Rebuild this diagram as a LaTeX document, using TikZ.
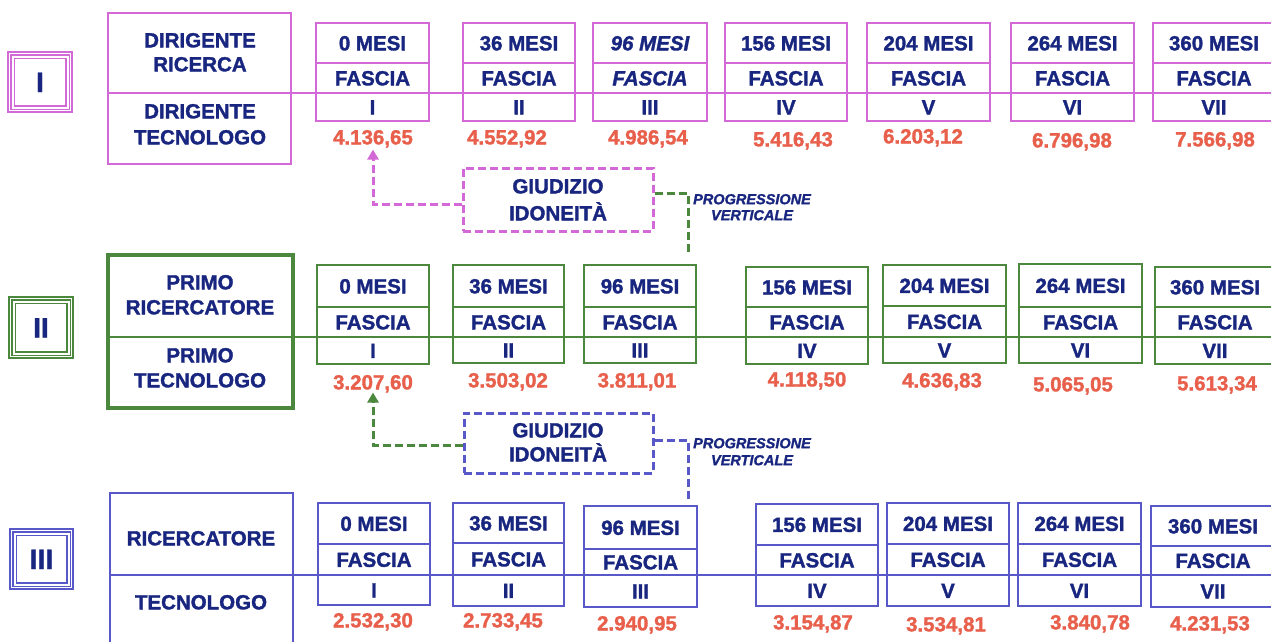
\documentclass[tikz,border=0pt]{standalone}
\usepackage{fontspec}
\setmainfont{Liberation Sans}[BoldFeatures={FakeBold=1.5},BoldItalicFeatures={FakeBold=1.5}]
\usetikzlibrary{fit,arrows.meta}
\definecolor{mag}{RGB}{210,105,215}
\definecolor{grn}{RGB}{75,135,60}
\definecolor{blu}{RGB}{88,88,200}
\definecolor{navy}{RGB}{25,38,128}
\definecolor{valc}{RGB}{232,96,76}
\tikzset{
  lbl/.style={font=\fontsize{20.5}{24}\selectfont\bfseries, text=navy, inner sep=0pt, text height=14.7pt, text depth=0pt},
  vlbl/.style={lbl, text=valc},
  rom/.style={font=\fontsize{28}{30}\selectfont\bfseries, text=navy, inner sep=0pt, text height=20pt, text depth=0pt},
  prog/.style={font=\fontsize{14.5}{16}\selectfont\bfseries\itshape, text=navy, inner sep=0pt, text height=10.4pt, text depth=0pt},
  boxline/.style={line width=2pt},
  dashline/.style={line width=3pt, dash pattern=on 8pt off 4pt},
  tip/.style={-{Triangle[width=11pt,length=10pt]}},
}
\newcommand\romanbox[7]{%
  \node[fit={(#3,#5)(#4,#6)}, inner sep=0pt, draw=#2, line width=1.5pt] (#1) {};
  \draw[#2, line width=1.5pt] ([xshift=3.5pt,yshift=-3.5pt]#1.north west) rectangle ([xshift=-3.5pt,yshift=3.5pt]#1.south east);
  \draw[#2, line width=1.5pt] ([xshift=7pt,yshift=-7pt]#1.north west) rectangle ([xshift=-7pt,yshift=7pt]#1.south east);
  \node[rom] (#1t) at (#1.center) {#7};
}
\newcommand\fas[9]{%
  \node[fit={(#3,#5)(#4,#7)}, inner sep=0pt, draw=#2, boxline] (#1) {};
  \draw[#2, boxline] (#3,#6) -- (#4,#6);
  \node[lbl] (#1m) at ({(#3+#4)/2},{(#5+#6)/2}) {#8};
  \node[lbl] (#1f) at ({(#3+#4)/2},{(#6+\ymid)/2}) {\fasc};
  \node[lbl] (#1r) at ({(#3+#4)/2},{(\ymid+#7)/2}) {#9};
}
\def\fasc{FASCIA}
\begin{document}
\begin{tikzpicture}[x=1pt,y=-1pt]
\clip (0,0) rectangle (1271,641);
\fill[white] (0,0) rectangle (1271,641);

% ---------------- Row I ----------------
\def\ymid{93}
\romanbox{R1}{mag}{8}{72}{52}{112}{I}
\node[fit={(108,13)(291,164)}, inner sep=0pt, draw=mag, boxline] (T1) {};
\coordinate (L1a) at (108,93);
\coordinate (L1b) at (1275,93);
\draw[mag, boxline] (L1a) -- (L1b);
\node[lbl] (T1a) at (200,40) {DIRIGENTE};
\node[lbl] (T1b) at (200,64) {RICERCA};
\node[lbl] (T1c) at (200,111) {DIRIGENTE};
\node[lbl] (T1d) at (200,137) {TECNOLOGO};
\fas{a1}{mag}{316}{429}{23}{63}{121}{0 MESI}{I}
\fas{a2}{mag}{463}{575}{23}{63}{121}{36 MESI}{II}
\def\fasc{\itshape FASCIA}
\fas{a3}{mag}{593}{707}{23}{63}{121}{\itshape 96 MESI}{III}
\def\fasc{FASCIA}
\fas{a4}{mag}{725}{847}{23}{63}{121}{156 MESI}{IV}
\fas{a5}{mag}{867}{990}{23}{63}{121}{204 MESI}{V}
\fas{a6}{mag}{1011}{1134}{23}{63}{121}{264 MESI}{VI}
\fas{a7}{mag}{1153}{1275}{23}{63}{121}{360 MESI}{VII}
\node[vlbl] (a1v) at (373,137) {4.136,65};
\node[vlbl] (a2v) at (507,137) {4.552,92};
\node[vlbl] (a3v) at (648,137) {4.986,54};
\node[vlbl] (a4v) at (793,139) {5.416,43};
\node[vlbl] (a5v) at (923,136) {6.203,12};
\node[vlbl] (a6v) at (1072,140) {6.796,98};
\node[vlbl] (a7v) at (1215,139) {7.566,98};

% giudizio 1
\node[fit={(463,168)(653,231)}, inner sep=0pt, draw=mag, dashline] (g1) {};
\node[lbl] (g1a) at (558,186) {GIUDIZIO};
\node[lbl] (g1b) at (558,213) {IDONEITÀ};
\draw[mag, dashline, tip] ([yshift=-4.5pt]g1.west) -| ([yshift=-5pt]a1v.south);
\coordinate (q1) at (688,255);
\draw[grn, dashline] ([yshift=6.5pt]g1.east) -| (q1);
\node[prog] (p1a) at (752,199) {PROGRESSIONE};
\node[prog] (p1b) at (752,215) {VERTICALE};

% ---------------- Row II ----------------
\def\ymid{337}
\romanbox{R2}{grn}{9}{73}{297}{358}{II}
\coordinate (L2a) at (108,337);
\coordinate (L2b) at (1275,337);
\draw[grn, boxline] (L2a) -- (L2b);
\node[fit={(108,255)(293,408)}, inner sep=0pt, draw=grn, line width=4pt] (T2) {};
\node[lbl] (T2a) at (200,282) {PRIMO};
\node[lbl] (T2b) at (200,307) {RICERCATORE};
\node[lbl] (T2c) at (200,355) {PRIMO};
\node[lbl] (T2d) at (200,380) {TECNOLOGO};
\fas{b1}{grn}{317}{429}{265}{307}{364}{0 MESI}{I}
\fas{b2}{grn}{453}{564}{265}{307}{363}{36 MESI}{II}
\fas{b3}{grn}{584}{696}{265}{307}{363}{96 MESI}{III}
\fas{b4}{grn}{746}{868}{267}{307}{364}{156 MESI}{IV}
\fas{b5}{grn}{883}{1006}{265}{306}{363}{204 MESI}{V}
\fas{b6}{grn}{1019}{1142}{264}{307}{363}{264 MESI}{VI}
\fas{b7}{grn}{1155}{1275}{267}{307}{364}{360 MESI}{VII}
\node[vlbl] (b1v) at (373,382) {3.207,60};
\node[vlbl] (b2v) at (508,380) {3.503,02};
\node[vlbl] (b3v) at (637,380) {3.811,01};
\node[vlbl] (b4v) at (807,379) {4.118,50};
\node[vlbl] (b5v) at (942,380) {4.636,83};
\node[vlbl] (b6v) at (1073,384) {5.065,05};
\node[vlbl] (b7v) at (1217,383) {5.613,34};

% giudizio 2
\node[fit={(464,413)(653,473)}, inner sep=0pt, draw=blu, dashline] (g2) {};
\node[lbl] (g2a) at (558,430) {GIUDIZIO};
\node[lbl] (g2b) at (558,454) {IDONEITÀ};
\draw[grn, dashline, tip] ([yshift=-2pt]g2.west) -| ([yshift=-3pt]b1v.south);
\coordinate (q2) at (688,500);
\draw[blu, dashline] ([yshift=3pt]g2.east) -| (q2);
\node[prog] (p2a) at (752,443) {PROGRESSIONE};
\node[prog] (p2b) at (752,460) {VERTICALE};

% ---------------- Row III ----------------
\def\ymid{575}
\romanbox{R3}{blu}{10}{73}{529}{589}{III}
\coordinate (L3a) at (110,575);
\coordinate (L3b) at (1275,575);
\draw[blu, boxline] (L3a) -- (L3b);
\node[fit={(110,493)(293,660)}, inner sep=0pt, draw=blu, boxline] (T3) {};
\node[lbl] (T3a) at (201,538) {RICERCATORE};
\node[lbl] (T3b) at (201,602) {TECNOLOGO};
\fas{c1}{blu}{318}{430}{503}{544}{605}{0 MESI}{I}
\fas{c2}{blu}{453}{564}{503}{543}{606}{36 MESI}{II}
\fas{c3}{blu}{584}{697}{506}{549}{607}{96 MESI}{III}
\fas{c4}{blu}{756}{878}{504}{545}{606}{156 MESI}{IV}
\fas{c5}{blu}{887}{1009}{503}{544}{606}{204 MESI}{V}
\fas{c6}{blu}{1018}{1141}{503}{544}{606}{264 MESI}{VI}
\fas{c7}{blu}{1151}{1275}{506}{546}{607}{360 MESI}{VII}
\node[vlbl] (c1v) at (373,620) {2.532,30};
\node[vlbl] (c2v) at (503,620) {2.733,45};
\node[vlbl] (c3v) at (637,623) {2.940,95};
\node[vlbl] (c4v) at (813,622) {3.154,87};
\node[vlbl] (c5v) at (946,624) {3.534,81};
\node[vlbl] (c6v) at (1090,622) {3.840,78};
\node[vlbl] (c7v) at (1210,623) {4.231,53};
\end{tikzpicture}
\end{document}
